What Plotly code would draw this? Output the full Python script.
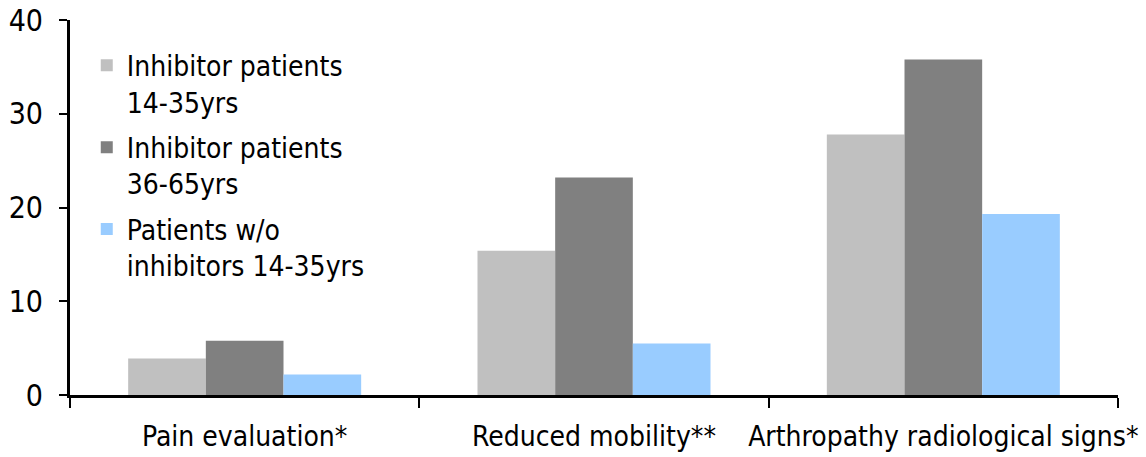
import plotly.graph_objects as go

categories = ["Pain evaluation*", "Reduced mobility**", "Arthropathy radiological signs*"]
series_names = [
    "Inhibitor patients<br>14-35yrs",
    "Inhibitor patients<br>36-65yrs",
    "Patients w/o<br>inhibitors 14-35yrs",
]
inhib_14_35 = [3.9, 15.4, 27.8]
inhib_36_65 = [5.8, 23.2, 35.8]
no_inhib_14_35 = [2.2, 5.5, 19.3]
y_ticks = [0, 10, 20, 30, 40]

colors = ["#C0C0C0", "#808080", "#99CCFF"]
FONT = "DejaVu Sans Condensed, DejaVu Sans, Verdana, sans-serif"

fig = go.Figure()
for i, (name, vals) in enumerate(zip(series_names, [inhib_14_35, inhib_36_65, no_inhib_14_35])):
    fig.add_trace(go.Bar(
        x=categories, y=vals, name=name,
        marker=dict(color=colors[i], line=dict(width=0)),
        legendgroup=str(i),
    ))

fig.update_layout(
    width=1146, height=457,
    margin=dict(l=70, r=28, t=20, b=62, autoexpand=False),
    paper_bgcolor="white", plot_bgcolor="white",
    barmode="group", bargap=0.333, bargroupgap=0,
    font=dict(family=FONT, size=28, color="black"),
    showlegend=True,
    legend=dict(
        x=0.016, y=0.945, xanchor="left", yanchor="top",
        bgcolor="rgba(0,0,0,0)", valign="top",
        tracegroupgap=6, font=dict(size=28),
    ),
    xaxis=dict(
        showline=True, linecolor="black", linewidth=3,
        ticks="outside", tickson="boundaries", ticklen=10, tickwidth=2, tickcolor="black",
        tickangle=0, showgrid=False, zeroline=False, automargin=False,
        ticklabelstandoff=14, tickfont=dict(size=28),
    ),
    yaxis=dict(
        range=[0, 40], tickvals=y_ticks,
        showline=True, linecolor="black", linewidth=3,
        ticks="outside", ticklen=8, tickwidth=2, tickcolor="black",
        showgrid=False, zeroline=False, ticklabelstandoff=10, automargin=False,
        tickfont=dict(size=30),
    ),
)

fig.write_html("out.html")
